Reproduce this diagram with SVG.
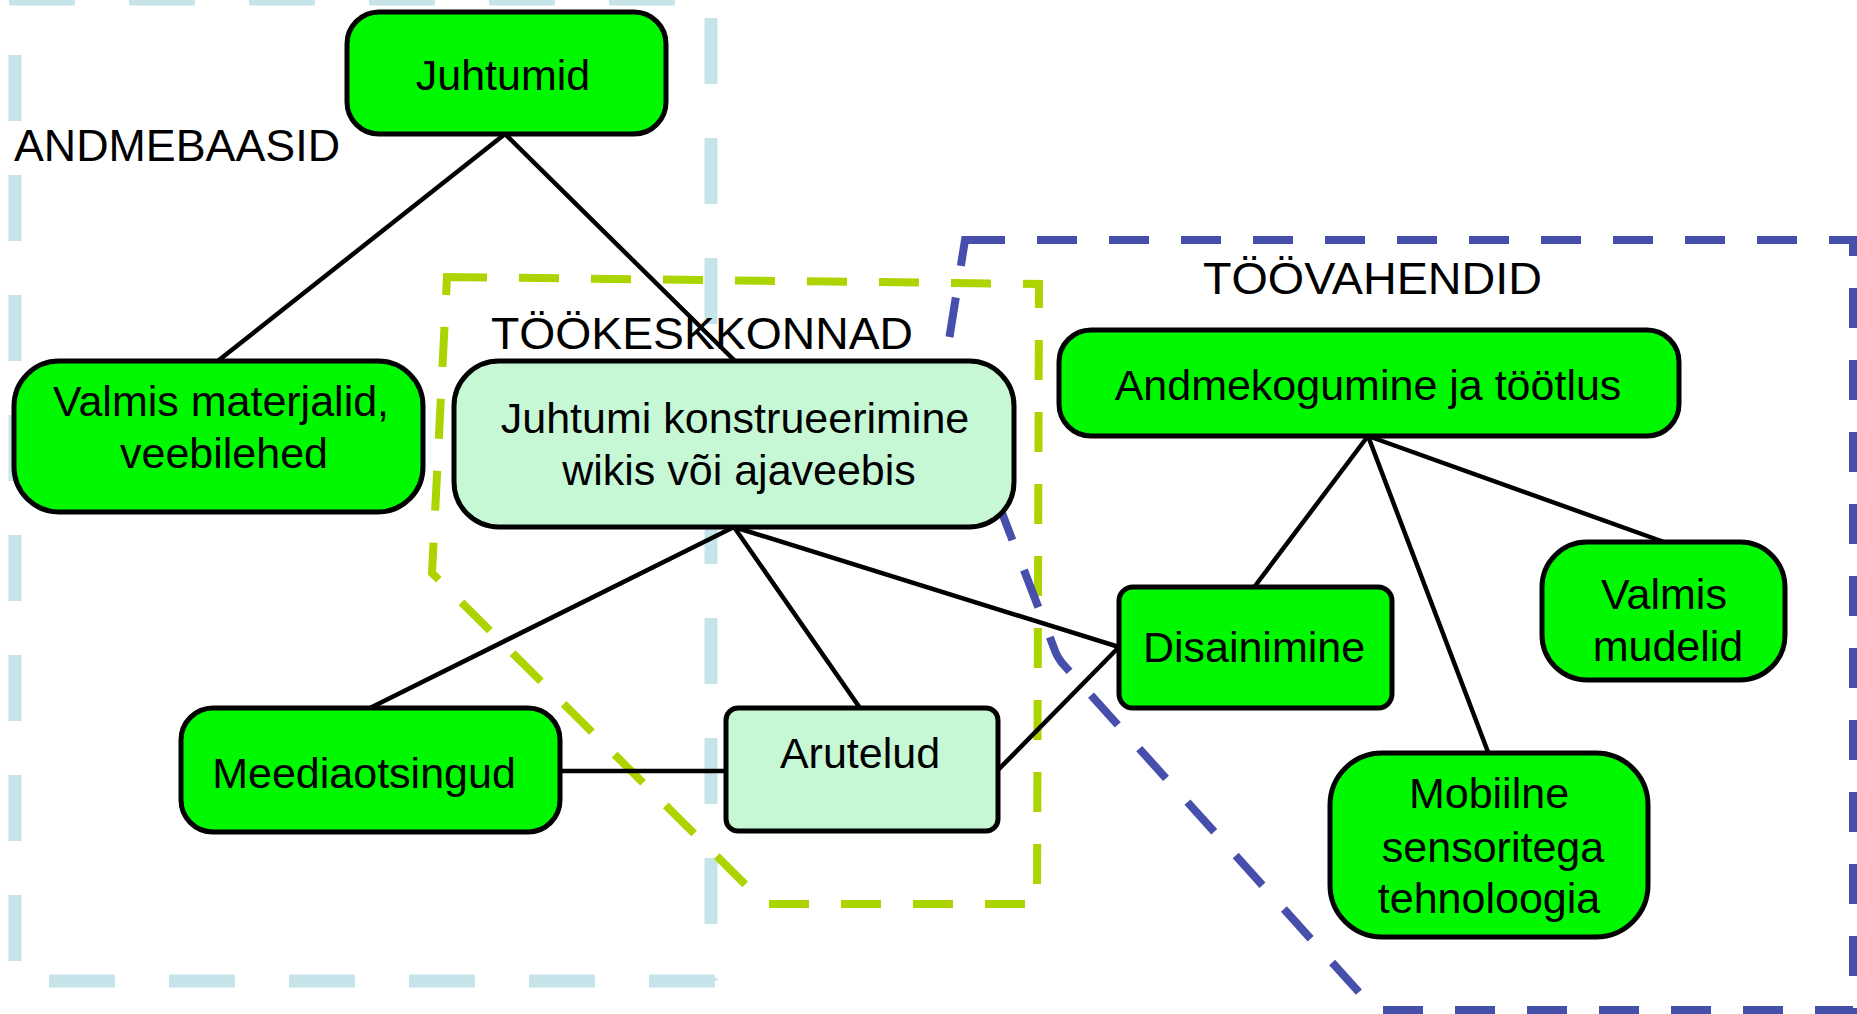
<svg xmlns="http://www.w3.org/2000/svg" width="1857" height="1014" viewBox="0 0 1857 1014">
<style>
  .bg { fill: #ffffff; }
  .lbl { font-family: "Liberation Sans", Arial, sans-serif; font-size: 45px; fill: #000; }
  .txt { font-family: "Liberation Sans", Arial, sans-serif; font-size: 43px; fill: #000; text-anchor: middle; }
  .node { stroke: #000; stroke-width: 5; }
  .dark { fill: #00f800; }
  .light { fill: #c6f8d6; }
  .conn { stroke: #000; stroke-width: 4.5; fill: none; stroke-linecap: round; }
  .grpA { stroke: #c6e4e9; stroke-width: 13; fill: none; stroke-dasharray: 66 54; }
  .grpB { stroke: #acd400; stroke-width: 8; fill: none; stroke-dasharray: 40 32; }
  .grpC { stroke: #464fab; stroke-width: 8; fill: none; stroke-dasharray: 40 32; }
</style>
<rect class="bg" x="0" y="0" width="1857" height="1014"/>

<g id="containers">
  <g id="andmebaasid-box">
    <line class="grpA" x1="9" y1="-1" x2="711" y2="-1"/>
    <line class="grpA" x1="15" y1="55" x2="15" y2="981"/>
    <line class="grpA" x1="711" y1="18" x2="711" y2="981"/>
    <line class="grpA" x1="49" y1="981" x2="716" y2="981"/>
  </g>
  <path id="tookeskkonnad-box" class="grpB" d="M 447 277 L 1039 284 L 1037 904 L 765 904 L 432 573 Z"/>
  <path id="toovahendid-box" class="grpC" d="M 965 240 L 1853 240 L 1853 1010 L 1375 1010 L 1062 663 Q 1056 655 1054 648 L 945 365 Z"/>
</g>

<g id="labels">
  <text class="lbl" x="14" y="161" textLength="326" lengthAdjust="spacingAndGlyphs">ANDMEBAASID</text>
  <text class="lbl" x="491" y="349" textLength="422" lengthAdjust="spacingAndGlyphs">TÖÖKESKKONNAD</text>
  <text class="lbl" x="1203" y="294" textLength="339" lengthAdjust="spacingAndGlyphs">TÖÖVAHENDID</text>
</g>

<g id="connectors">
  <line class="conn" x1="505" y1="134" x2="219" y2="360"/>
  <line class="conn" x1="505" y1="134" x2="734" y2="360"/>
  <line class="conn" x1="734" y1="527" x2="370" y2="708"/>
  <line class="conn" x1="734" y1="527" x2="860" y2="708"/>
  <line class="conn" x1="734" y1="527" x2="1119" y2="647"/>
  <line class="conn" x1="560" y1="771" x2="726" y2="771"/>
  <line class="conn" x1="998" y1="770" x2="1119" y2="647"/>
  <line class="conn" x1="1368" y1="436" x2="1255" y2="586"/>
  <line class="conn" x1="1368" y1="436" x2="1488" y2="752"/>
  <line class="conn" x1="1368" y1="436" x2="1664" y2="542"/>
</g>

<g id="node-juhtumid">
  <rect class="node dark" x="347" y="12" width="319" height="122" rx="32"/>
  <text class="txt" x="503" y="90">Juhtumid</text>
</g>

<g id="node-valmis-materjalid">
  <rect class="node dark" x="14" y="361" width="409" height="151" rx="45"/>
  <text class="txt" x="221" y="416">Valmis materjalid,</text>
  <text class="txt" x="224" y="468">veebilehed</text>
</g>

<g id="node-juhtumi-konstrueerimine">
  <rect class="node light" x="454" y="361" width="560" height="166" rx="45"/>
  <text class="txt" x="735" y="433">Juhtumi konstrueerimine</text>
  <text class="txt" x="739" y="485">wikis või ajaveebis</text>
</g>

<g id="node-andmekogumine">
  <rect class="node dark" x="1059" y="330" width="620" height="106" rx="32"/>
  <text class="txt" x="1368" y="400">Andmekogumine ja töötlus</text>
</g>

<g id="node-disainimine">
  <rect class="node dark" x="1119" y="587" width="273" height="121" rx="14"/>
  <text class="txt" x="1254" y="662">Disainimine</text>
</g>

<g id="node-valmis-mudelid">
  <rect class="node dark" x="1542" y="542" width="243" height="138" rx="45"/>
  <text class="txt" x="1664" y="609">Valmis</text>
  <text class="txt" x="1668" y="661">mudelid</text>
</g>

<g id="node-mobiilne">
  <rect class="node dark" x="1330" y="753" width="318" height="184" rx="52"/>
  <text class="txt" x="1489" y="808">Mobiilne</text>
  <text class="txt" x="1493" y="862">sensoritega</text>
  <text class="txt" x="1489" y="913">tehnoloogia</text>
</g>

<g id="node-meediaotsingud">
  <rect class="node dark" x="181" y="708" width="379" height="124" rx="32"/>
  <text class="txt" x="364" y="788">Meediaotsingud</text>
</g>

<g id="node-arutelud">
  <rect class="node light" x="726" y="708" width="272" height="123" rx="12"/>
  <text class="txt" x="860" y="768">Arutelud</text>
</g>
</svg>
